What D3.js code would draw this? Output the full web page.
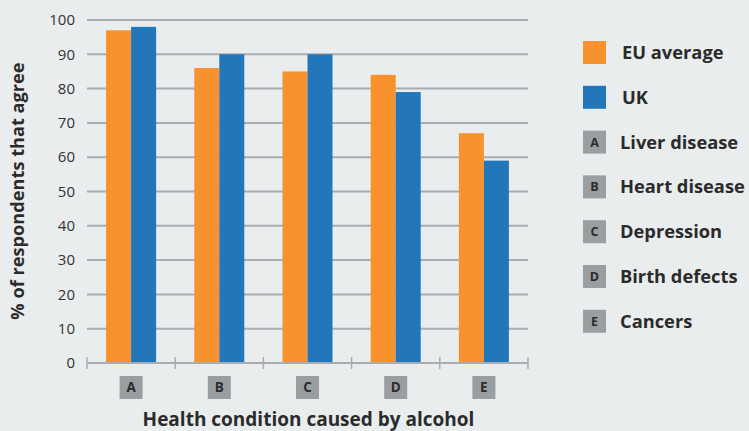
<!DOCTYPE html>
<html>
<head>
<meta charset="utf-8">
<script src="https://cdn.jsdelivr.net/npm/d3@7"></script>
<style>
  html, body { margin: 0; padding: 0; background: #e9edee; }
  svg { display: block; font-family: "Open Sans", "Noto Sans", sans-serif; }
</style>
</head>
<body>
<svg id="chart"></svg>
<script>
// Data
const categories = ["A", "B", "C", "D", "E"];
const conditionNames = ["Liver disease", "Heart disease", "Depression", "Birth defects", "Cancers"];
const seriesNames = ["EU average", "UK"];
const euValues = [97, 86, 85, 84, 67];
const ukValues = [98, 90, 90, 79, 59];
const yTicks = [0, 10, 20, 30, 40, 50, 60, 70, 80, 90, 100];
const colors = ["#f7922f", "#2277bb"];

const W = 749, H = 431;
const margin = { top: 20, right: 221, bottom: 68, left: 87 };
const width = W - margin.left - margin.right;
const height = H - margin.top - margin.bottom;

const svg = d3.select("#chart").attr("width", W).attr("height", H);
svg.append("rect").attr("width", W).attr("height", H).attr("fill", "#e9edee");

const g = svg.append("g").attr("transform", `translate(${margin.left},${margin.top})`);

// Scales
const x = d3.scaleBand().domain(categories).range([0, width]).padding(0);
const x1 = d3.scaleBand().domain(seriesNames).range([0, 50]);
const y = d3.scaleLinear().domain([0, 100]).range([height, 0]);

// Gridlines
g.selectAll(".grid")
  .data(yTicks.filter(d => d > 0))
  .enter().append("line")
  .attr("class", "grid")
  .attr("x1", 0).attr("x2", width)
  .attr("y1", d => y(d)).attr("y2", d => y(d))
  .attr("stroke", "#a9adb0")
  .attr("stroke-width", 2);

// Y tick labels
g.selectAll(".ytick")
  .data(yTicks)
  .enter().append("text")
  .attr("class", "ytick")
  .attr("x", -12)
  .attr("y", d => y(d))
  .attr("dy", "0.35em")
  .attr("text-anchor", "end")
  .attr("fill", "#333")
  .attr("font-size", 15)
  .text(d => d);

// Bars
const rows = categories.map((c, i) => ({ cat: c, vals: [euValues[i], ukValues[i]] }));
const groups = g.selectAll(".grp")
  .data(rows)
  .enter().append("g")
  .attr("class", "grp")
  .attr("transform", d => `translate(${x(d.cat) + x.bandwidth() / 2 - 25},0)`);

groups.selectAll("rect")
  .data(d => d.vals.map((v, j) => ({ key: seriesNames[j], v: v, j: j })))
  .enter().append("rect")
  .attr("x", d => x1(d.key))
  .attr("width", x1.bandwidth())
  .attr("y", d => y(d.v))
  .attr("height", d => y(0) - y(d.v))
  .attr("fill", d => colors[d.j]);

// X axis baseline with ticks at band boundaries
g.append("line")
  .attr("x1", 0).attr("x2", width)
  .attr("y1", y(0)).attr("y2", y(0))
  .attr("stroke", "#a9adb0")
  .attr("stroke-width", 2);

const bounds = categories.map(c => x(c)).concat([width]);
g.selectAll(".xtick")
  .data(bounds)
  .enter().append("line")
  .attr("class", "xtick")
  .attr("x1", d => d).attr("x2", d => d)
  .attr("y1", y(0) - 6).attr("y2", y(0) + 6)
  .attr("stroke", "#a9adb0")
  .attr("stroke-width", 1.5);

// Category letter boxes
const boxSize = 23;
const labels = g.selectAll(".xlab")
  .data(categories)
  .enter().append("g")
  .attr("class", "xlab")
  .attr("transform", d => `translate(${x(d) + x.bandwidth() / 2 - boxSize / 2},${height + 13})`);
labels.append("rect")
  .attr("width", boxSize).attr("height", boxSize)
  .attr("fill", "#9b9ea1");
labels.append("text")
  .attr("x", boxSize / 2).attr("y", boxSize / 2)
  .attr("dy", "0.36em")
  .attr("text-anchor", "middle")
  .attr("fill", "#2b2b2b")
  .attr("font-size", 13.5)
  .attr("font-weight", 700)
  .text(d => d);

// Axis titles
svg.append("text")
  .attr("x", margin.left + width / 2 + 1)
  .attr("y", 426)
  .attr("text-anchor", "middle")
  .attr("fill", "#2b2b2b")
  .attr("font-size", 19)
  .attr("font-weight", 700)
  .text("Health condition caused by alcohol");

svg.append("text")
  .attr("transform", "translate(24,191) rotate(-90)")
  .attr("text-anchor", "middle")
  .attr("fill", "#2b2b2b")
  .attr("font-size", 18.2)
  .attr("font-weight", 700)
  .text("% of respondents that agree");

// Legend
const legendItems = seriesNames.map((s, i) => ({ key: null, name: s, color: colors[i] }))
  .concat(categories.map((c, i) => ({ key: c, name: conditionNames[i], color: "#9b9ea1" })));
const legend = svg.append("g").attr("transform", "translate(583,41)");
const li = legend.selectAll(".li")
  .data(legendItems)
  .enter().append("g")
  .attr("class", "li")
  .attr("transform", (d, i) => `translate(0,${i * 44.8})`);
li.append("rect")
  .attr("width", 23).attr("height", 23)
  .attr("fill", d => d.color);
li.filter(d => d.key).append("text")
  .attr("x", 11.5).attr("y", 11.5)
  .attr("dy", "0.36em")
  .attr("text-anchor", "middle")
  .attr("fill", "#2b2b2b")
  .attr("font-size", 12.5)
  .attr("font-weight", 700)
  .text(d => d.key);
li.append("text")
  .attr("x", d => d.key ? 37 : 39)
  .attr("y", 11.5)
  .attr("dy", "0.36em")
  .attr("fill", "#2b2b2b")
  .attr("font-size", 18.3)
  .attr("font-weight", 700)
  .text(d => d.name);
</script>
</body>
</html>
